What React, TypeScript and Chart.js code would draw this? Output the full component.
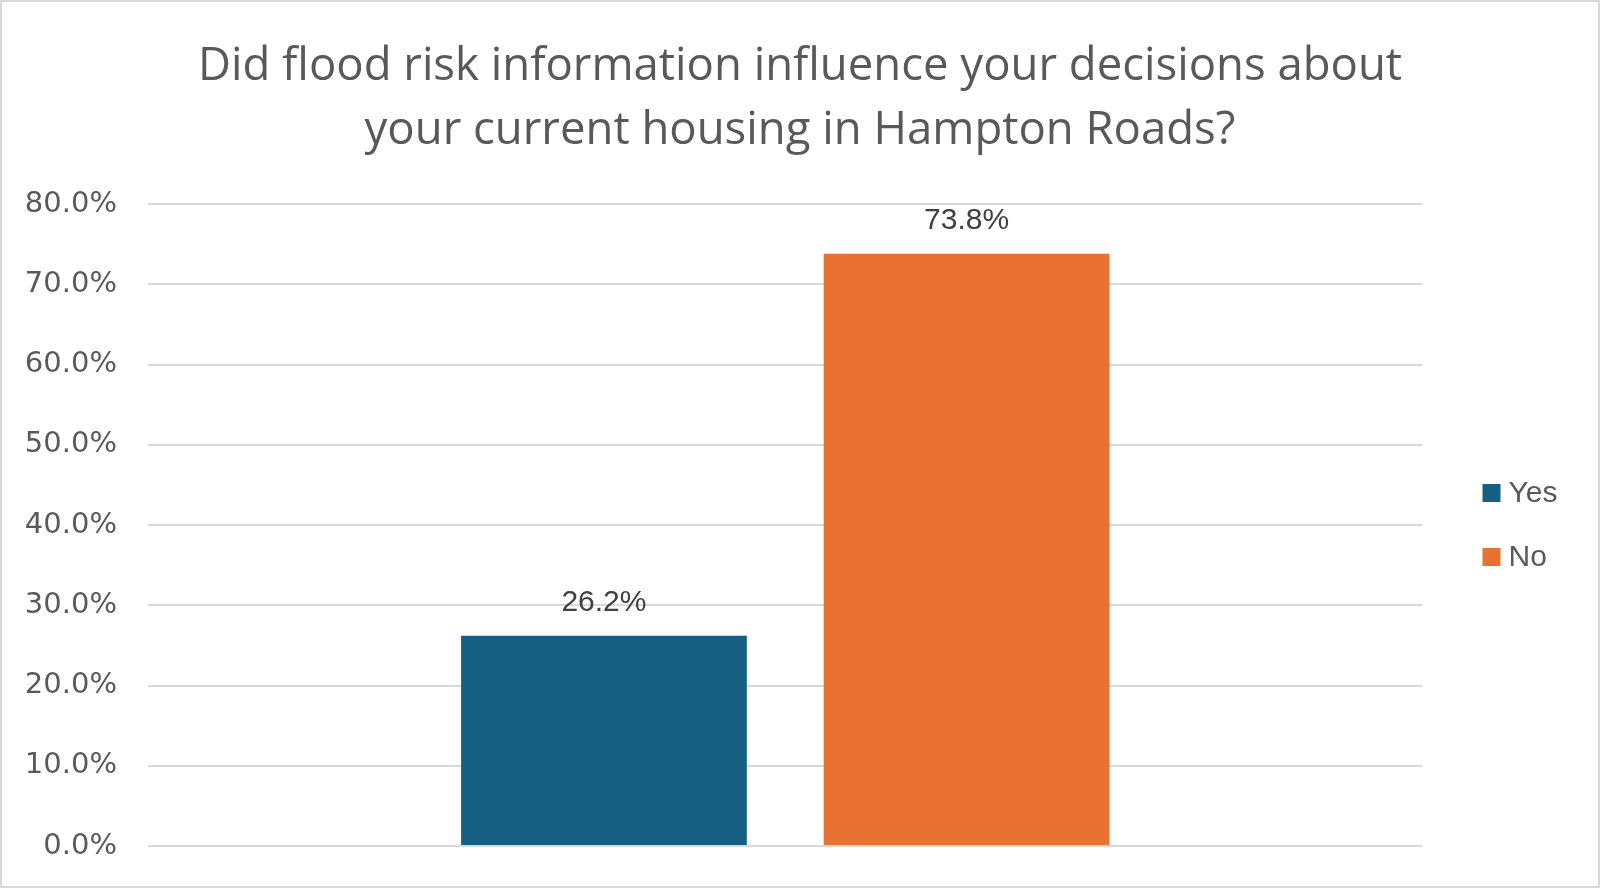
import React, { useEffect, useRef } from "react";
import { Chart, registerables } from "chart.js";

Chart.register(...registerables);

const categories = [""];
const seriesNames = ["Yes", "No"];
const seriesValues = [26.2, 73.8];
const seriesColors = ["#156082", "#E97132"];
const yMin = 0;
const yMax = 80;
const yStep = 10;
const titleLines = [
  "Did flood risk information influence your decisions about",
  "your current housing in Hampton Roads?",
];

const TEXT_COLOR = "#595959";
const LABEL_COLOR = "#404040";
const GRID_COLOR = "#d9d9d9";

const dataLabelPlugin = {
  id: "dataLabels",
  afterDatasetsDraw(chart: any) {
    const ctx = chart.ctx;
    ctx.save();
    ctx.font = "30px 'Liberation Sans', Arial, sans-serif";
    ctx.fillStyle = LABEL_COLOR;
    ctx.textAlign = "center";
    ctx.textBaseline = "alphabetic";
    chart.data.datasets.forEach((ds: any, i: number) => {
      const meta = chart.getDatasetMeta(i);
      meta.data.forEach((el: any, j: number) => {
        const v = ds.data[j];
        ctx.fillText(v.toFixed(1) + "%", el.x, el.y - 25);
      });
    });
    ctx.restore();
  },
};

const legendPlugin = {
  id: "customLegend",
  afterDraw(chart: any) {
    const ctx = chart.ctx;
    const area = chart.chartArea;
    const n = chart.data.datasets.length;
    const spacing = 64;
    const cy = (area.top + area.bottom) / 2;
    const x0 = area.right + 60;
    const box = 18;
    ctx.save();
    ctx.font = "30px 'Liberation Sans', Arial, sans-serif";
    ctx.textBaseline = "middle";
    ctx.textAlign = "left";
    chart.data.datasets.forEach((ds: any, i: number) => {
      const y = cy + (i - (n - 1) / 2) * spacing;
      ctx.fillStyle = ds.backgroundColor;
      ctx.fillRect(x0, y - box / 2, box, box);
      ctx.fillStyle = TEXT_COLOR;
      ctx.fillText(ds.label, x0 + box + 8, y + 1);
    });
    ctx.restore();
  },
};

export default function App() {
  const ref = useRef<HTMLCanvasElement | null>(null);

  useEffect(() => {
    document.body.style.margin = "0";
    if (!ref.current) return;
    const chart = new Chart(ref.current, {
      type: "bar",
      data: {
        labels: categories,
        datasets: seriesNames.map((name, i) => ({
          label: name,
          data: [seriesValues[i]],
          backgroundColor: seriesColors[i],
          borderWidth: 0,
          categoryPercentage: 0.569,
          barPercentage: 0.788,
        })),
      },
      options: {
        responsive: false,
        animation: false,
        devicePixelRatio: 1,
        layout: { padding: { top: 0, right: 0, bottom: 40, left: 0 } },
        plugins: {
          legend: { display: false },
          tooltip: { enabled: false },
          title: {
            display: true,
            text: titleLines,
            color: TEXT_COLOR,
            font: { family: "'Open Sans', sans-serif", size: 45.5, weight: "normal", lineHeight: 1.4066 },
            padding: { top: 33, bottom: 41 },
          },
        },
        scales: {
          x: {
            display: false,
            grid: { display: false },
          },
          y: {
            min: yMin,
            max: yMax,
            afterFit(scale: any) {
              scale.width = 146;
            },
            ticks: {
              stepSize: yStep,
              padding: 0,
              color: TEXT_COLOR,
              font: { family: "'DejaVu Sans', sans-serif", size: 29 },
              callback: (v: any) => Number(v).toFixed(1) + "%",
            },
            grid: {
              color: GRID_COLOR,
              lineWidth: 2,
              drawTicks: true,
              tickLength: 31,
              tickColor: "rgba(0,0,0,0)",
            },
            border: { display: false },
          },
          ySpacer: {
            position: "right",
            display: true,
            min: yMin,
            max: yMax,
            afterFit(scale: any) {
              scale.width = 175.5;
            },
            ticks: { display: false },
            grid: { display: false, drawTicks: false },
            border: { display: false },
          },
        },
      },
      plugins: [dataLabelPlugin, legendPlugin],
    } as any);
    return () => chart.destroy();
  }, []);

  return (
    <div
      style={{
        position: "fixed",
        left: 0,
        top: 0,
        width: 1600,
        height: 888,
        boxSizing: "border-box",
        border: "2px solid #d9d9d9",
        background: "#fff",
      }}
    >
      <canvas ref={ref} width={1596} height={884} style={{ display: "block", width: 1596, height: 884 }} />
    </div>
  );
}
